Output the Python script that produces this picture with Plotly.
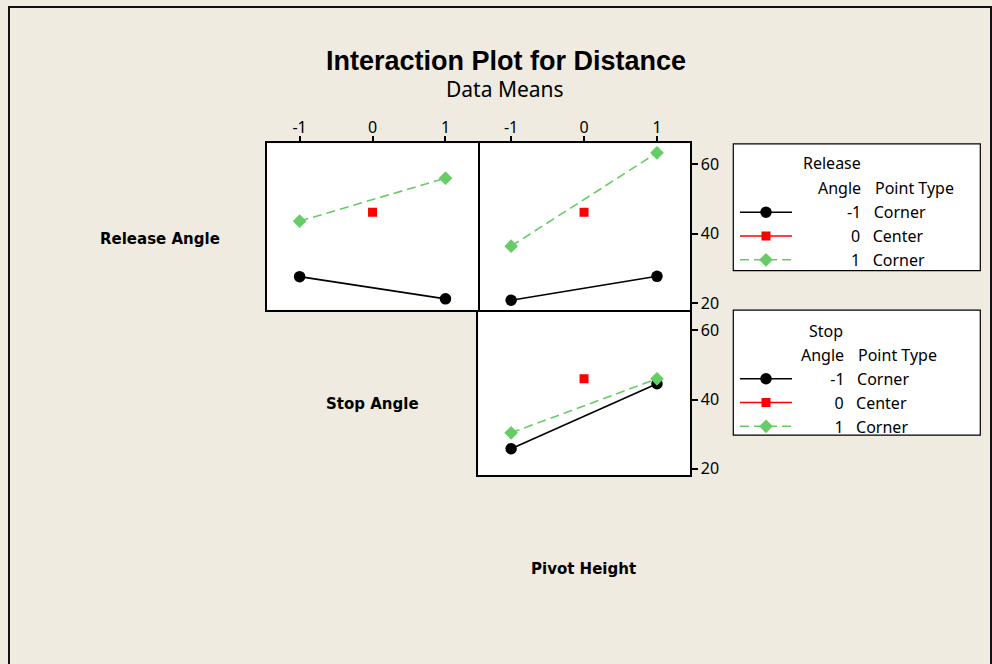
import plotly.graph_objects as go

# ---------------- data ----------------
levels = [-1, 1]
center_level = [0]

# Row 1: traces by Release Angle, x = Stop Angle (panel 1) and Pivot Height (panel 2)
rel_m1_by_stop = [27.6, 21.2]
rel_p1_by_stop = [43.6, 56.0]
rel_ctr_by_stop = [46.2]
rel_m1_by_pivot = [20.8, 27.7]
rel_p1_by_pivot = [36.4, 63.3]
rel_ctr_by_pivot = [46.2]

# Row 2: traces by Stop Angle, x = Pivot Height
stop_m1_by_pivot = [25.8, 44.6]
stop_p1_by_pivot = [30.4, 46.0]
stop_ctr_by_pivot = [46.0]

x_ticks = [-1, 0, 1]
x_tick_text = ["-1", "0", "1"]
y_ticks = [20, 40, 60]
level_text = ["-1", "0", "1"]
point_types = ["Corner", "Center", "Corner"]

W, H = 992, 664
def px(x):
    return x / W
def py(y):
    return 1 - y / H

NB = "\u00a0"
def entry_names(pad):
    out = []
    for lv, pt in zip(level_text, point_types):
        extra = 0 if lv.startswith("-") else 1
        out.append(NB * (pad + extra) + lv + NB * 3 + pt)
    return out

BLACK = "#000000"
RED = "#FF0000"
GREEN = "#66CC66"
BG = "#EFEBE1"
FONT = "Noto Sans"
BOLD = "DejaVu Sans"

fig = go.Figure()

def add_set(xa, ya, m1, p1, ctr, legend, show, names):
    fig.add_trace(go.Scatter(x=levels, y=m1, xaxis=xa, yaxis=ya, mode="lines+markers",
                             name=names[0], legend=legend, showlegend=show,
                             line=dict(color=BLACK, width=1.6),
                             marker=dict(symbol="circle", size=11.5, color=BLACK)))
    fig.add_trace(go.Scatter(x=center_level, y=ctr, xaxis=xa, yaxis=ya, mode="lines+markers",
                             name=names[1], legend=legend, showlegend=show,
                             line=dict(color=RED, width=1.6),
                             marker=dict(symbol="square", size=9, color=RED)))
    fig.add_trace(go.Scatter(x=levels, y=p1, xaxis=xa, yaxis=ya, mode="lines+markers",
                             name=names[2], legend=legend, showlegend=show,
                             line=dict(color=GREEN, width=1.6, dash="9px,5px"),
                             marker=dict(symbol="diamond", size=10.5, color=GREEN)))

names1 = entry_names(12)
names2 = entry_names(8)
add_set("x", "y", rel_m1_by_stop, rel_p1_by_stop, rel_ctr_by_stop, "legend", True, names1)
add_set("x2", "y2", rel_m1_by_pivot, rel_p1_by_pivot, rel_ctr_by_pivot, "legend", False, names1)
add_set("x3", "y3", stop_m1_by_pivot, stop_p1_by_pivot, stop_ctr_by_pivot, "legend2", True, names2)

c2 = [px(266.8), px(478.3)]
c3 = [px(478.3), px(689.8)]
r1 = [py(311.5), py(144.3)]
r2 = [py(478.3), py(311.5)]

XR = [-1.45, 1.45]
YR = [18.1, 66.0]
tickfont = dict(family=FONT, size=16, color=BLACK)
base = dict(showline=True, linecolor=BLACK, linewidth=1.5,
            showgrid=False, zeroline=False, fixedrange=True)

fig.update_layout(
    xaxis=dict(domain=c2, range=XR, side="top", ticks="outside", ticklen=6, tickwidth=1.5,
               tickcolor=BLACK, tickvals=x_ticks, ticktext=x_tick_text, tickfont=tickfont,
               ticklabelstandoff=-4, anchor="y", mirror=True, **base),
    yaxis=dict(domain=r1, range=YR, showticklabels=False, ticks="", anchor="x", mirror=True, **base),
    xaxis2=dict(domain=c3, range=XR, side="top", ticks="outside", ticklen=6, tickwidth=1.5,
                tickcolor=BLACK, tickvals=x_ticks, ticktext=x_tick_text, tickfont=tickfont,
                ticklabelstandoff=-4, anchor="y2", mirror=True, **base),
    yaxis2=dict(domain=r1, range=YR, side="right", ticks="outside", ticklen=6, tickwidth=1.5,
                tickcolor=BLACK, tickvals=y_ticks, tickfont=tickfont, anchor="x2", mirror=False, **base),
    xaxis3=dict(domain=c3, range=XR, showticklabels=False, ticks="", anchor="y3", mirror=False, **base),
    yaxis3=dict(domain=r2, range=YR, side="right", ticks="outside", ticklen=6, tickwidth=1.5,
                tickcolor=BLACK, tickvals=y_ticks, tickfont=tickfont, anchor="x3", mirror=True, **base),
)

shapes = [
    dict(type="rect", xref="paper", yref="paper", x0=px(9), x1=px(991), y0=py(700), y1=py(7),
         line=dict(color="#111111", width=2), fillcolor="rgba(0,0,0,0)", layer="above"),
    dict(type="rect", xref="paper", yref="paper", x0=px(733.3), x1=px(980.3), y0=py(272.3), y1=py(144.7),
         line=dict(color=BLACK, width=1.2), fillcolor="white", layer="below"),
    dict(type="rect", xref="paper", yref="paper", x0=px(733.3), x1=px(980.3), y0=py(437.7), y1=py(312),
         line=dict(color=BLACK, width=1.2), fillcolor="white", layer="below"),
]

def ann(text, x, y, size, xanchor="center", bold=False, family=FONT):
    return dict(text=("<b>%s</b>" % text) if bold else text, x=px(x), y=py(y),
                xref="paper", yref="paper", showarrow=False, xanchor=xanchor, yanchor="middle",
                font=dict(family=family, size=size, color=BLACK))

annotations = [
    ann("Interaction Plot for Distance", 506, 61, 27, bold=True, family="Liberation Sans"),
    ann("Data Means", 505, 90, 21),
    ann("Release Angle", 160, 240, 15, bold=True, family=BOLD),
    ann("Stop Angle", 372, 406, 15, bold=True, family=BOLD),
    ann("Pivot Height", 583, 572, 15, bold=True, family=BOLD),
    ann("Release", 862.7, 164.3, 16, xanchor="right"),
    ann("Angle", 862.7, 189.3, 16, xanchor="right"),
    ann("Point Type", 873.3, 189.3, 16, xanchor="left"),
    ann("Stop", 845, 332.7, 16, xanchor="right"),
    ann("Angle", 846, 356.7, 16, xanchor="right"),
    ann("Point Type", 855.7, 356.7, 16, xanchor="left"),
]

legfont = dict(family=FONT, size=16, color=BLACK)
fig.update_layout(
    width=W, height=H, autosize=False,
    margin=dict(l=0, r=0, t=0, b=0),
    paper_bgcolor=BG, plot_bgcolor="white",
    showlegend=True,
    legend=dict(x=px(735), y=py(196.5), xanchor="left", yanchor="top", font=legfont,
                bgcolor="rgba(0,0,0,0)", borderwidth=0, itemwidth=52, traceorder="normal",
                itemclick=False, itemdoubleclick=False),
    legend2=dict(x=px(735), y=py(364), xanchor="left", yanchor="top", font=legfont,
                 bgcolor="rgba(0,0,0,0)", borderwidth=0, itemwidth=52, traceorder="normal",
                 itemclick=False, itemdoubleclick=False),
    shapes=shapes,
    annotations=annotations,
)

fig.write_html("out.html", config={"displayModeBar": False},
               post_script="document.body.style.margin='0px';")
